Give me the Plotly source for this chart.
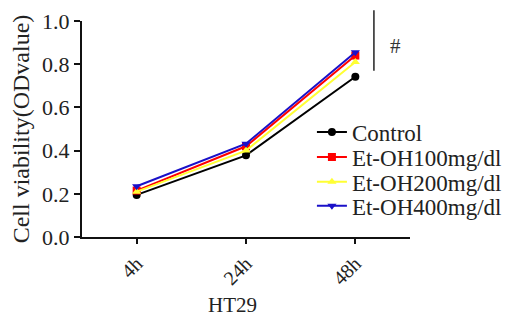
import plotly.graph_objects as go

time_labels = ["4h", "24h", "48h"]
control = [0.195, 0.378, 0.742]
etoh100 = [0.215, 0.42, 0.84]
etoh200 = [0.21, 0.40, 0.81]
etoh400 = [0.235, 0.432, 0.855]

series = [
    ("Control", control, "#000000", "circle"),
    ("Et-OH100mg/dl", etoh100, "#ff0000", "square"),
    ("Et-OH200mg/dl", etoh200, "#ffff33", "triangle-up"),
    ("Et-OH400mg/dl", etoh400, "#1a10c8", "triangle-down"),
]

FONT = "Liberation Serif"
xs = list(range(len(time_labels)))
legend_ys = [0.486, 0.370, 0.255, 0.144]

fig = go.Figure()
legend_layouts = {}
for i, (name, vals, col, sym) in enumerate(series):
    lname = "legend" if i == 0 else f"legend{i + 1}"
    fig.add_trace(go.Scatter(
        x=xs, y=vals, name=name, mode="lines+markers",
        line=dict(color=col, width=2),
        marker=dict(color=col, symbol=sym, size=8),
        legend=lname,
    ))
    legend_layouts[lname] = dict(
        x=0.701, y=legend_ys[i], xanchor="left", yanchor="middle",
        font=dict(family=FONT, size=23, color="#222"),
        bgcolor="rgba(0,0,0,0)", itemwidth=30,
    )

fig.update_layout(
    width=510, height=327,
    margin=dict(l=82, r=100, t=21, b=90, autoexpand=False),
    paper_bgcolor="white", plot_bgcolor="white",
    font=dict(family=FONT, size=20, color="#222"),
    showlegend=True,
    xaxis=dict(range=[-0.5, 2.5], tickvals=xs, ticktext=time_labels,
               tickangle=-45, showline=True, linecolor="#111", linewidth=2,
               ticks="outside", ticklen=5, tickwidth=2, tickcolor="#111",
               showgrid=False, zeroline=False, automargin=False,
               tickfont=dict(family=FONT, size=20, color="#222")),
    yaxis=dict(range=[0, 1.0], tickvals=[0, 0.2, 0.4, 0.6, 0.8, 1.0], tickformat=".1f",
               showline=True, linecolor="#111", linewidth=2,
               ticks="outside", ticklen=6, tickwidth=2, tickcolor="#111",
               showgrid=False, zeroline=False, automargin=False,
               title=dict(text="Cell viability(ODvalue)", standoff=6,
                          font=dict(family=FONT, size=24, color="#222")),
               tickfont=dict(family=FONT, size=22, color="#222")),
    **legend_layouts,
)

fig.add_annotation(text="HT29", xref="paper", yref="paper", x=0.46, y=-0.315,
                   showarrow=False, font=dict(family=FONT, size=21, color="#222"),
                   xanchor="center", yanchor="middle")
fig.add_shape(type="line", xref="paper", yref="paper", x0=0.89, x1=0.89,
              y0=0.77, y1=1.05, line=dict(color="#222", width=1.5))
fig.add_annotation(text="#", xref="paper", yref="paper", x=0.955, y=0.885,
                   showarrow=False, font=dict(family=FONT, size=21, color="#333"),
                   xanchor="center", yanchor="middle")

fig.write_html("out.html", config={"displayModeBar": False},
               post_script="document.body.style.margin='0';")
